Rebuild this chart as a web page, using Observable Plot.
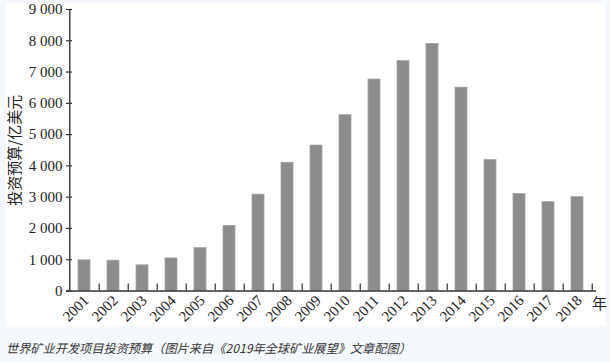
<!DOCTYPE html>
<html><head><meta charset="utf-8">
<script src="https://cdn.jsdelivr.net/npm/d3@7"></script>
<script src="https://cdn.jsdelivr.net/npm/@observablehq/plot@0.6"></script>
<style>
html,body{margin:0;padding:0;background:#f5f8fc;}
#wrap{position:relative;width:610px;height:362px;overflow:hidden;}
#panel{position:absolute;left:6px;top:3px;width:599px;height:323px;background:#fff;}
#chart{position:absolute;left:6px;top:0px;}
#chart svg{overflow:visible;}
#cap{position:absolute;left:6px;top:339px;font-family:"Noto Sans CJK SC",sans-serif;font-style:italic;font-size:12.2px;color:#333;white-space:nowrap;line-height:18px;}
</style></head><body>
<div id="wrap"><div id="panel"></div><div id="chart"></div><div id="cap"></div></div>
<script>
const years = ["2001","2002","2003","2004","2005","2006","2007","2008","2009","2010","2011","2012","2013","2014","2015","2016","2017","2018"];
const budget = [980, 970, 820, 1040, 1370, 2080, 3080, 4100, 4650, 5620, 6760, 7350, 7900, 6500, 4190, 3100, 2840, 3000];
const yTicks = [0, 1000, 2000, 3000, 4000, 5000, 6000, 7000, 8000, 9000];
const yLabel = "投资预算/亿美元";
const xUnit = "年";
const caption = "世界矿业开发项目投资预算（图片来自《2019年全球矿业展望》文章配图）";

const data = years.map((year, i) => ({year, value: budget[i]}));
const W = 599, H = 326, mL = 60, mR = 9, mT = 9, mB = 35.5;
const step = (W - mL - mR) / years.length;
const fmt = d => d3.format(",")(d).replace(/,/g, " ");

const chart = Plot.plot({
  width: W, height: H,
  marginLeft: mL, marginRight: mR, marginTop: mT, marginBottom: mB,
  style: {background: "transparent", fontFamily: "'Liberation Serif', 'Times New Roman', serif", fontSize: "15px", color: "#222", overflow: "visible"},
  x: {domain: years, paddingInner: 0.575, paddingOuter: 0.2875},
  y: {domain: [0, 9000]},
  marks: [
    Plot.barY(data, {x: "year", y: "value", fill: "#8c8c8c", stroke: "#a2a2a2", strokeWidth: 0.8}),
    Plot.ruleX(years, {x: d => d, dx: step / 2, y1: 0, y2: 0, insetBottom: 7, stroke: "#333", strokeWidth: 1.2}),
    Plot.ruleX([years[0]], {x: d => d, dx: -step / 2, y1: 0, y2: 9000, stroke: "#333", strokeWidth: 1.4}),
    Plot.tickY(yTicks, {y: d => d, insetRight: W - mL - mR - 6, stroke: "#333", strokeWidth: 1.2}),
    Plot.ruleY([0], {stroke: "#333", strokeWidth: 1.4}),
    Plot.axisY({ticks: yTicks, tickSize: 0, tickPadding: 4, tickFormat: fmt, label: null, fontSize: 15}),
    Plot.axisX({tickSize: 0, tickPadding: 6, tickRotate: -45, label: null, fontSize: 15, dx: 2, dy: 1}),
    Plot.text([yLabel], {text: d => d, frameAnchor: "left", textAnchor: "middle", rotate: -90, dx: -51.5, dy: 0, fontSize: 15, fontFamily: "'Noto Sans CJK SC'", fill: "#222"}),
    Plot.text([xUnit], {text: d => d, frameAnchor: "bottom-right", textAnchor: "middle", dx: 3, dy: 18, fontSize: 15, fontFamily: "'Noto Sans CJK SC'", fill: "#222"})
  ]
});
document.getElementById("chart").appendChild(chart);
document.getElementById("cap").textContent = caption;
</script>
</body></html>
